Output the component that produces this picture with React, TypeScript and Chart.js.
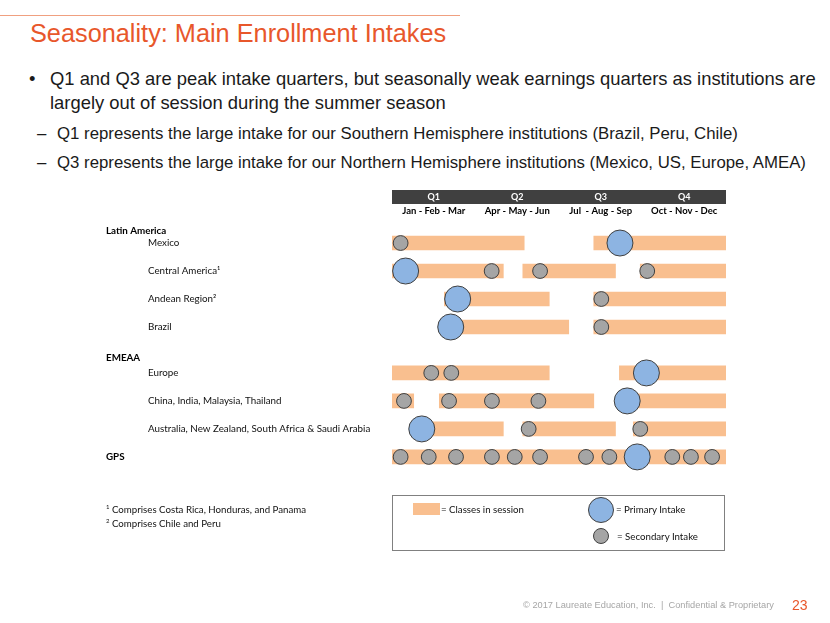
import React, { useEffect, useRef } from "react";
import { Chart, registerables } from "chart.js";

Chart.register(...registerables);

// ---------- data ----------
const quarterLabels = ["Q1", "Q2", "Q3", "Q4"];
const monthLabels = ["Jan - Feb - Mar", "Apr - May - Jun", "Jul  - Aug - Sep", "Oct - Nov - Dec"];

const regionNames = [
  "Mexico",
  "Central America\u00B9",
  "Andean Region\u00B2",
  "Brazil",
  "Europe",
  "China, India, Malaysia, Thailand",
  "Australia, New Zealand, South Africa & Saudi Arabia",
  "GPS",
];
// section each region belongs to (0 = Latin America, 1 = EMEAA, 2 = GPS)
const regionSection = [0, 0, 0, 0, 1, 1, 1, 2];
const sectionLabels = ["Latin America", "EMEAA", "GPS"];

// months (0 = start of Jan, 12 = end of Dec) when classes are in session
const sessions: [number, number][][] = [
  [[0, 4.75], [7.25, 12]],
  [[0, 4], [4.7, 8.03], [8.92, 12]],
  [[1.88, 5.65], [7.25, 12]],
  [[1.9, 6.35], [7.25, 12]],
  [[0, 5.65], [8.17, 12]],
  [[0, 0.78], [1.7, 7.25], [8.2, 12]],
  [[1.1, 4], [4.7, 8.03], [8.67, 12]],
  [[0, 12]],
];

const primaryIntake: number[][] = [[8.19], [0.49], [2.36], [2.11], [9.14], [8.45], [1.07], [8.81]];
const secondaryIntake: number[][] = [
  [0.31],
  [3.58, 5.32, 9.17],
  [7.52],
  [7.52],
  [1.41, 2.13],
  [0.43, 2.05, 3.59, 5.26],
  [4.91, 8.92],
  [0.31, 1.32, 2.3, 3.59, 4.41, 5.32, 6.97, 7.81, 10.07, 10.74, 11.5],
];

// ---------- style ----------
const SESSION_COLOR = "#F9BF8F";
const PRIMARY_COLOR = "#8DB4E2";
const SECONDARY_COLOR = "#A5A5A5";
const OUTLINE = "#404040";
const ORANGE = "#E8572B";
const LABEL_FONT = "Lato, 'Open Sans', sans-serif";
const SECTION_GAP = 0.64;

const rowOf = (i: number) => i + (regionSection[i] > 0 ? SECTION_GAP : 0);
const sectionRow = (s: number) => {
  const first = regionSection.indexOf(s);
  return s === 2 ? rowOf(first) : rowOf(first) - (s === 0 ? 0.45 : 0.55);
};

function SeasonChart() {
  const ref = useRef<HTMLCanvasElement | null>(null);
  useEffect(() => {
    if (!ref.current) return;
    const barData: { x: [number, number]; y: number }[] = [];
    sessions.forEach((segs, i) => segs.forEach((s) => barData.push({ x: s, y: rowOf(i) })));
    const prim: { x: number; y: number }[] = [];
    primaryIntake.forEach((xs, i) => xs.forEach((x) => prim.push({ x, y: rowOf(i) })));
    const sec: { x: number; y: number }[] = [];
    secondaryIntake.forEach((xs, i) => xs.forEach((x) => sec.push({ x, y: rowOf(i) })));

    const subRows = regionNames.map((_, i) => i).filter((i) => regionSection[i] < 2);
    const headerRows = sectionLabels.map((_, s) => sectionRow(s));

    const yMin = -0.94;
    const yMax = 8.2;

    const chart = new Chart(ref.current, {
      type: "bar",
      data: {
        datasets: [
          {
            type: "bubble",
            data: prim,
            radius: 13,
            backgroundColor: PRIMARY_COLOR,
            borderColor: OUTLINE,
            borderWidth: 1,
            order: 1,
            clip: false,
            xAxisID: "x",
            yAxisID: "y",
          } as any,
          {
            type: "bubble",
            data: sec,
            radius: 7.4,
            backgroundColor: SECONDARY_COLOR,
            borderColor: OUTLINE,
            borderWidth: 1,
            order: 1,
            clip: false,
            xAxisID: "x",
            yAxisID: "y",
          } as any,
          {
            type: "bar",
            indexAxis: "y",
            data: barData,
            backgroundColor: SESSION_COLOR,
            borderWidth: 0,
            barThickness: 14,
            order: 2,
            xAxisID: "x",
            yAxisID: "y",
          } as any,
        ],
      },
      options: {
        responsive: false,
        animation: false,
        events: [],
        layout: { padding: { left: 148, right: 104, top: 190, bottom: 150.4 } },
        plugins: { legend: { display: false }, tooltip: { enabled: false } },
        scales: {
          x: {
            type: "linear",
            position: "top",
            min: 0,
            max: 12,
            offset: false,
            weight: 1,
            grid: { display: false, drawTicks: false },
            border: { display: false },
            afterBuildTicks: (s: any) => {
              s.ticks = monthLabels.map((_, q) => ({ value: q * 3 + 1.5 }));
            },
            afterFit: (s: any) => {
              s.height = 12.7;
              s.paddingLeft = 0;
              s.paddingRight = 0;
            },
            ticks: {
              autoSkip: false,
              maxRotation: 0,
              padding: 0,
              color: "#000",
              font: { family: LABEL_FONT, size: 9.5, weight: "bold" },
              callback: (_v: any, i: number) => monthLabels[i],
            },
          },
          xq: {
            type: "linear",
            position: "top",
            min: 0,
            max: 12,
            offset: false,
            weight: 2,
            backgroundColor: "#404040",
            grid: { display: false, drawTicks: false },
            border: { display: false },
            afterBuildTicks: (s: any) => {
              s.ticks = quarterLabels.map((_, q) => ({ value: q * 3 + 1.5 }));
            },
            afterFit: (s: any) => {
              s.height = 14;
              s.paddingLeft = 0;
              s.paddingRight = 0;
            },
            ticks: {
              autoSkip: false,
              maxRotation: 0,
              padding: 1.6,
              color: "#fff",
              font: { family: LABEL_FONT, size: 9, weight: "bold" },
              callback: (_v: any, i: number) => quarterLabels[i],
            },
          },
          // region labels (outer left axis, labels left-aligned at its left edge)
          y: {
            type: "linear",
            position: "left",
            reverse: true,
            min: yMin,
            max: yMax,
            offset: false,
            weight: 2,
            grid: { display: false, drawTicks: false },
            border: { display: false },
            afterBuildTicks: (s: any) => {
              s.ticks = subRows.map((i) => ({ value: rowOf(i) }));
            },
            afterFit: (s: any) => {
              s.width = 244;
              s.paddingTop = 0;
              s.paddingBottom = 0;
            },
            ticks: {
              autoSkip: false,
              crossAlign: "far",
              padding: 0,
              color: "#111",
              font: { family: LABEL_FONT, size: 9.8 },
              callback: (_v: any, i: number) => regionNames[subRows[i]],
            },
          },
          // section headers (zero-width inner axis, mirrored labels pulled to the left)
          yh: {
            type: "linear",
            position: "left",
            reverse: true,
            min: yMin,
            max: yMax,
            offset: false,
            weight: 1,
            grid: { display: false, drawTicks: false },
            border: { display: false },
            afterBuildTicks: (s: any) => {
              s.ticks = headerRows.map((v) => ({ value: v }));
            },
            afterFit: (s: any) => {
              s.width = 0;
              s.paddingTop = 0;
              s.paddingBottom = 0;
            },
            ticks: {
              autoSkip: false,
              mirror: true,
              padding: -286,
              color: "#000",
              font: { family: LABEL_FONT, size: 9.8, weight: "bold" },
              callback: (_v: any, i: number) => sectionLabels[i],
            },
          },
        },
      } as any,
    });
    return () => chart.destroy();
  }, []);
  return <canvas ref={ref} width={830} height={623} style={{ position: "absolute", left: 0, top: 0 }} />;
}

const abs = (left: number, top: number, extra: React.CSSProperties = {}): React.CSSProperties => ({
  position: "absolute",
  left,
  top,
  whiteSpace: "nowrap",
  ...extra,
});

export default function App() {
  const body = { fontSize: 18.4, lineHeight: "18.4px", color: "#1a1a1a" };
  const sub = { fontSize: 16.8, lineHeight: "16.8px", color: "#1a1a1a" };
  const small = { fontFamily: LABEL_FONT, fontSize: 9.7, lineHeight: "10px", color: "#111" };
  return (
    <div
      style={{
        position: "absolute",
        left: 0,
        top: 0,
        width: 830,
        height: 623,
        background: "#fff",
        overflow: "hidden",
        fontFamily: "'Liberation Sans', Arial, sans-serif",
      }}
    >
      <div style={abs(0, 15, { width: 460, height: 1, background: "#F0A080" })} />
      <div style={abs(30, 20.5, { fontSize: 25.3, lineHeight: "25.3px", color: ORANGE })}>
        Seasonality: Main Enrollment Intakes
      </div>

      <div style={abs(29, 69.9, body)}>•</div>
      <div style={abs(50, 69.9, body)}>
        Q1 and Q3 are peak intake quarters, but seasonally weak earnings quarters as institutions are
      </div>
      <div style={abs(50, 93.9, body)}>largely out of session during the summer season</div>
      <div style={abs(37, 126.2, sub)}>–</div>
      <div style={abs(57, 126.2, sub)}>
        Q1 represents the large intake for our Southern Hemisphere institutions (Brazil, Peru, Chile)
      </div>
      <div style={abs(37, 155.2, sub)}>–</div>
      <div style={abs(57, 155.2, sub)}>
        Q3 represents the large intake for our Northern Hemisphere institutions (Mexico, US, Europe, AMEA)
      </div>

      <SeasonChart />

      <div style={abs(106, 502, small)}>
        <sup style={{ fontSize: 6 }}>1</sup> Comprises Costa Rica, Honduras, and Panama
      </div>
      <div style={abs(106, 516, small)}>
        <sup style={{ fontSize: 6 }}>2</sup> Comprises Chile and Peru
      </div>

      <div
        style={abs(392, 494.5, {
          width: 333,
          height: 56,
          border: "1px solid #808080",
          boxSizing: "border-box",
        })}
      />
      <div style={abs(413, 503, { width: 27, height: 12, background: SESSION_COLOR })} />
      <div style={abs(441, 503.5, small)}>= Classes in session</div>
      <div
        style={abs(588, 496.5, {
          width: 26,
          height: 26,
          borderRadius: "50%",
          background: PRIMARY_COLOR,
          border: "1px solid " + OUTLINE,
          boxSizing: "border-box",
        })}
      />
      <div style={abs(616, 503.5, small)}>= Primary Intake</div>
      <div
        style={abs(593, 528, {
          width: 16,
          height: 16,
          borderRadius: "50%",
          background: SECONDARY_COLOR,
          border: "1px solid " + OUTLINE,
          boxSizing: "border-box",
        })}
      />
      <div style={abs(617, 530.5, small)}>= Secondary Intake</div>

      <div style={abs(523, 600.5, { fontSize: 9.25, lineHeight: "9.25px", color: "#A6A6A6" })}>
        © 2017 Laureate Education, Inc.&nbsp; |&nbsp; Confidential &amp; Proprietary
      </div>
      <div style={abs(792, 598, { fontSize: 14, lineHeight: "14px", color: ORANGE })}>23</div>
    </div>
  );
}
